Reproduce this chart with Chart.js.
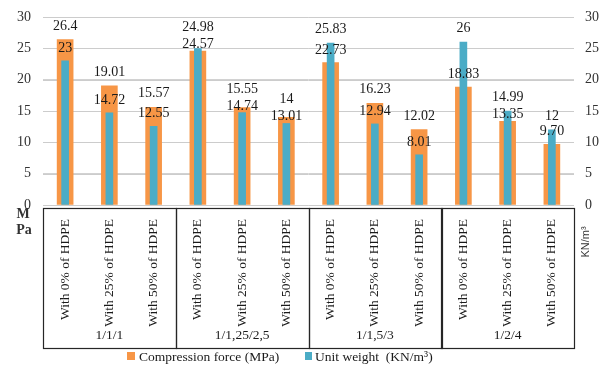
<!DOCTYPE html>
<html>
<head>
<meta charset="utf-8">
<script src="https://cdn.jsdelivr.net/npm/chart.js@4"></script>
<style>
  body { margin: 0; background: #fff; }
  #wrap { width: 600px; height: 365px; }
</style>
</head>
<body>
<div id="wrap"><canvas id="myChart"></canvas></div>
<script>
// categories, one per bar pair
var categories = [
  "With 0% of HDPE", "With 25% of HDPE", "With 50% of HDPE",
  "With 0% of HDPE", "With 25% of HDPE", "With 50% of HDPE",
  "With 0% of HDPE", "With 25% of HDPE", "With 50% of HDPE",
  "With 0% of HDPE", "With 25% of HDPE", "With 50% of HDPE"
];
// mix ratio groups (3 categories each)
var groups = ["1/1/1", "1/1,25/2,5", "1/1,5/3", "1/2/4"];

// series values
var compression = [26.4, 19.01, 15.57, 24.57, 15.55, 14, 22.73, 16.23, 12.02, 18.83, 13.35, 9.70];
var unitWeight = [23, 14.72, 12.55, 24.98, 14.74, 13.01, 25.83, 12.94, 8.01, 26, 14.99, 12];
// value labels as printed
var compressionText = ["26.4", "19.01", "15.57", "24.57", "15.55", "14", "22.73", "16.23", "12.02", "18.83", "13.35", "9.70"];
var unitText = ["23", "14.72", "12.55", "24.98", "14.74", "13.01", "25.83", "12.94", "8.01", "26", "14.99", "12"];

var yTicks = [0, 5, 10, 15, 20, 25, 30];

var seriesNames = ["Compression force (MPa)", "Unit weight  (KN/m\u00B3)"];
var orange = '#F79646';
var blue = '#4BACC6';
var serif = '"Liberation Serif", "Times New Roman", serif';

// gridlines, labels, group boxes, axis titles and legend
var decorations = {
  id: 'decorations',
  beforeDatasetsDraw: function(chart) {
    var c = chart.ctx, y = chart.scales.y, area = chart.chartArea;
    c.save();
    c.strokeStyle = '#cccccc';
    c.lineWidth = 1;
    for (var k = 0; k < yTicks.length; k++) {
      var py = Math.round(y.getPixelForValue(yTicks[k])) + 0.5;
      c.beginPath();
      c.moveTo(area.left, py);
      c.lineTo(area.right, py);
      c.stroke();
    }
    c.restore();
  },
  afterDraw: function(chart) {
    var c = chart.ctx;
    var x = chart.scales.x, y = chart.scales.y, y1 = chart.scales.y1;
    var area = chart.chartArea;
    c.save();

    // value labels
    c.font = '14px ' + serif;
    c.fillStyle = '#1a1a1a';
    c.textAlign = 'center';
    c.textBaseline = 'alphabetic';
    for (var i = 0; i < categories.length; i++) {
      var cx = x.getPixelForValue(i);
      var pc = y.getPixelForValue(compression[i]);
      var pu = y1.getPixelForValue(unitWeight[i]);
      var hiY = Math.min(pc, pu), loY = Math.max(pc, pu);
      var hiText = pc <= pu ? compressionText[i] : unitText[i];
      var loText = pc <= pu ? unitText[i] : compressionText[i];
      var loBase, hiBase;
      if (loY - hiY < 12) {
        loBase = loY - 3;
        hiBase = loBase - 17;
      } else {
        loBase = loY - 9;
        hiBase = hiY - 10;
      }
      c.fillText(hiText, cx, hiBase);
      c.fillText(loText, cx, loBase);
    }

    // group boxes + group names
    var step = x.getPixelForValue(1) - x.getPixelForValue(0);
    var boxTop = area.bottom + 3, boxBottom = area.bottom + 143;
    c.strokeStyle = '#262626';
    c.lineWidth = 1.2;
    c.font = '13.5px ' + serif;
    c.textBaseline = 'middle';
    for (var g = 0; g < groups.length; g++) {
      var left = x.getPixelForValue(g * 3) - step / 2;
      var right = x.getPixelForValue(g * 3 + 2) + step / 2;
      c.strokeRect(Math.round(left) + 0.5, boxTop + 0.5, Math.round(right - left), boxBottom - boxTop);
      c.fillText(groups[g], (left + right) / 2, area.bottom + 130);
    }

    // left axis title
    c.font = 'bold 14px ' + serif;
    c.fillStyle = '#333';
    c.fillText('M', 23, area.bottom + 9);
    c.fillText('Pa', 24, area.bottom + 25);

    // right axis title
    c.save();
    c.translate(586, area.bottom + 37);
    c.rotate(-Math.PI / 2);
    c.font = '11px "Liberation Sans", Arial, sans-serif';
    c.fillStyle = '#333';
    c.fillText('KN/m\u00B3', 0, 0);
    c.restore();

    // legend
    c.font = '13.5px ' + serif;
    c.textAlign = 'left';
    c.textBaseline = 'alphabetic';
    c.fillStyle = orange;
    c.fillRect(127, 352, 8, 8);
    c.fillStyle = '#1a1a1a';
    c.fillText(seriesNames[0], 139, 361);
    c.fillStyle = blue;
    c.fillRect(305, 352, 7, 8);
    c.fillStyle = '#1a1a1a';
    c.fillText(seriesNames[1], 315, 361);

    c.restore();
  }
};

var chart1 = new Chart(document.getElementById('myChart'), {
  type: 'bar',
  data: {
    labels: categories,
    datasets: [{
      label: seriesNames[0],
      data: compression,
      backgroundColor: orange,
      barThickness: 16,
      grouped: false,
      order: 1,
      yAxisID: 'y'
    }, {
      label: seriesNames[1],
      data: unitWeight,
      backgroundColor: blue,
      barThickness: 7,
      grouped: false,
      order: 0,
      yAxisID: 'y1'
    }]
  },
  options: {
    responsive: true,
    maintainAspectRatio: false,
    animation: false,
    layout: { padding: { top: 17, bottom: 0, left: 0, right: 0 } },
    plugins: {
      legend: { display: false },
      tooltip: { enabled: false }
    },
    scales: {
      x: {
        grid: { display: false, drawTicks: false },
        border: { display: false },
        ticks: {
          autoSkip: false,
          maxRotation: 90,
          minRotation: 90,
          padding: 14,
          color: '#1a1a1a',
          font: { family: serif, size: 13.5 }
        },
        afterFit: function(scale) { scale.height = 160; }
      },
      y: {
        position: 'left',
        min: 0,
        max: 30,
        afterBuildTicks: function(scale) {
          scale.ticks = yTicks.map(function(v) { return { value: v }; });
        },
        grid: { color: '#d2d2d2', lineWidth: 1, drawTicks: true, tickLength: 12, tickColor: 'rgba(0,0,0,0)' },
        border: { display: false },
        ticks: {
          padding: 0,
          color: '#333',
          font: { family: serif, size: 14 }
        },
        afterFit: function(scale) { scale.width = 43; }
      },
      y1: {
        position: 'right',
        min: 0,
        max: 30,
        afterBuildTicks: function(scale) {
          scale.ticks = yTicks.map(function(v) { return { value: v }; });
        },
        grid: { display: true, drawOnChartArea: false, drawTicks: true, tickLength: 11, tickColor: 'rgba(0,0,0,0)' },
        border: { display: false },
        ticks: {
          padding: 0,
          color: '#333',
          font: { family: serif, size: 14 }
        },
        afterFit: function(scale) { scale.width = 26; }
      }
    }
  },
  plugins: [decorations]
});
</script>
</body>
</html>
